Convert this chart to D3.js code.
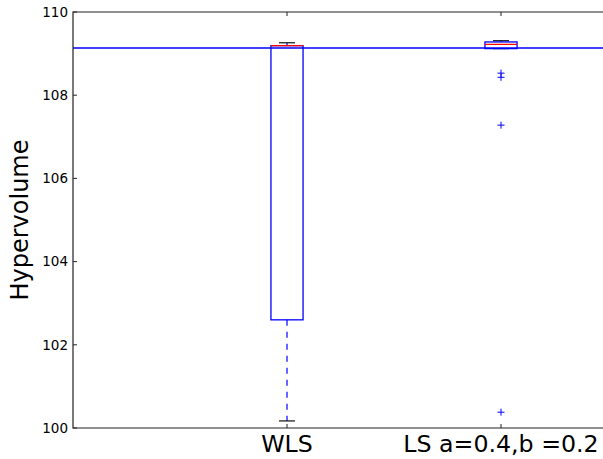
<!DOCTYPE html>
<html>
<head>
<meta charset="utf-8">
<script src="https://cdn.jsdelivr.net/npm/d3@7"></script>
<style>
  body { margin: 0; background: #fff; }
  svg { display: block; font-family: 'DejaVu Sans', sans-serif; }
</style>
</head>
<body>
<div id="plot"></div>
<script>
// data
const categories = ['WLS', 'LS a=0.4,b =0.2'];
const q1 = [102.60, 109.12];
const median = [109.19, 109.22];
const q3 = [109.19, 109.28];
const whiskerLow = [100.17, 109.12];
const whiskerHigh = [109.26, 109.31];
const fliers = [[], [108.53, 108.43, 107.28, 100.38]];
const reference = 109.135;
const yTicks = [100, 102, 104, 106, 108, 110];

const W = 603, H = 459;
const margin = {t: 12, l: 73, b: 31};
const blue = '#0000ff';

const svg = d3.select('#plot')
    .append('svg')
    .attr('width', W)
    .attr('height', H);

// xlim 0..2.5, right part falls outside the window
const x = d3.scaleLinear().domain([0, 2.5]).range([margin.l, margin.l + 535]);
const y = d3.scaleLinear().domain([100, 110]).range([H - margin.b, margin.t]);

const boxes = categories.map((c, i) => ({
    name: c, pos: i + 1,
    q1: q1[i], med: median[i], q3: q3[i],
    lo: whiskerLow[i], hi: whiskerHigh[i], fliers: fliers[i]
}));

const halfBox = (x(1.075) - x(1));
const halfCap = halfBox / 2;

const g = svg.append('g');

// whiskers (dashed)
g.selectAll('.wlow').data(boxes).enter().append('line')
    .attr('x1', d => x(d.pos)).attr('x2', d => x(d.pos))
    .attr('y1', d => y(d.q1)).attr('y2', d => y(d.lo))
    .attr('stroke', blue).attr('stroke-width', 1.2).attr('stroke-dasharray', '6,6');
g.selectAll('.whigh').data(boxes).enter().append('line')
    .attr('x1', d => x(d.pos)).attr('x2', d => x(d.pos))
    .attr('y1', d => y(d.q3)).attr('y2', d => y(d.hi))
    .attr('stroke', blue).attr('stroke-width', 1.2).attr('stroke-dasharray', '6,6');

// caps
['lo', 'hi'].forEach(k => {
    g.selectAll('.cap' + k).data(boxes).enter().append('line')
        .attr('x1', d => x(d.pos) - halfCap).attr('x2', d => x(d.pos) + halfCap)
        .attr('y1', d => y(d[k])).attr('y2', d => y(d[k]))
        .attr('stroke', '#111').attr('stroke-width', 1.2);
});

// boxes
g.selectAll('.box').data(boxes).enter().append('rect')
    .attr('x', d => x(d.pos) - halfBox)
    .attr('width', 2 * halfBox)
    .attr('y', d => y(d.q3))
    .attr('height', d => Math.max(0.5, y(d.q1) - y(d.q3)))
    .attr('fill', 'none').attr('stroke', blue).attr('stroke-width', 1.3);

// medians
g.selectAll('.med').data(boxes).enter().append('line')
    .attr('x1', d => x(d.pos) - halfBox).attr('x2', d => x(d.pos) + halfBox)
    .attr('y1', d => y(d.med)).attr('y2', d => y(d.med))
    .attr('stroke', '#ff0000').attr('stroke-width', 1.2);

// fliers
boxes.forEach(b => {
    g.selectAll(null).data(b.fliers).enter().append('path')
        .attr('d', v => `M${x(b.pos) - 3.5},${y(v)}h7M${x(b.pos)},${y(v) - 3.5}v7`)
        .attr('stroke', blue);
});

// reference line
svg.append('line')
    .attr('x1', margin.l).attr('x2', W)
    .attr('y1', y(reference)).attr('y2', y(reference))
    .attr('stroke', blue).attr('stroke-width', 1.5);

// frame
svg.append('path')
    .attr('d', `M${W + 10},${margin.t}H${margin.l}V${H - margin.b}H${W + 10}`)
    .attr('fill', 'none').attr('stroke', '#222').attr('stroke-width', 1.2);

// y axis ticks and labels
svg.selectAll('.ytick').data(yTicks).enter().append('line')
    .attr('x1', margin.l).attr('x2', margin.l + 4)
    .attr('y1', d => y(d)).attr('y2', d => y(d))
    .attr('stroke', '#222');
svg.selectAll('.ylab').data(yTicks).enter().append('text')
    .attr('x', margin.l - 5).attr('y', d => y(d))
    .attr('dy', '0.35em').attr('text-anchor', 'end')
    .attr('font-size', 13.5).text(d => d);

// x ticks (bottom and top) and labels
boxes.forEach(b => {
    svg.append('line')
        .attr('x1', x(b.pos)).attr('x2', x(b.pos))
        .attr('y1', H - margin.b).attr('y2', H - margin.b - 4)
        .attr('stroke', '#222');
    svg.append('line')
        .attr('x1', x(b.pos)).attr('x2', x(b.pos))
        .attr('y1', margin.t).attr('y2', margin.t + 4)
        .attr('stroke', '#222');
});
svg.selectAll('.xlab').data(boxes).enter().append('text')
    .attr('x', d => x(d.pos)).attr('y', 452)
    .attr('text-anchor', 'middle')
    .attr('font-size', 23.7).text(d => d.name);

// y axis title
svg.append('text')
    .attr('transform', `translate(28,${(margin.t + H - margin.b) / 2}) rotate(-90)`)
    .attr('text-anchor', 'middle')
    .attr('font-size', 24).text('Hypervolume');
</script>
</body>
</html>
